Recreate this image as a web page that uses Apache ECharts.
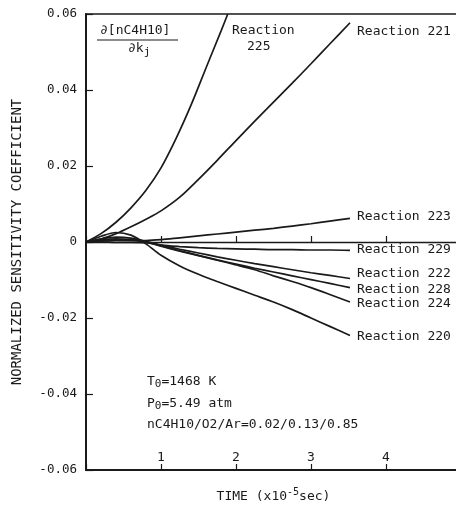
<!DOCTYPE html>
<html>
<head>
<meta charset="utf-8">
<script src="https://cdn.jsdelivr.net/npm/echarts@6/dist/echarts.min.js"></script>
<style>
  html, body { margin: 0; padding: 0; background: #fff; }
  #chart { width: 456px; height: 505px; }
</style>
</head>
<body>
<div id="chart"></div>
<script>
// Time points (x10^-5 sec) shared by the long-running coefficients
const timeGrid = [0, 0.2, 0.4, 0.6, 0.8, 1.0, 1.25, 1.5, 1.75, 2.0, 2.25, 2.5, 2.75, 3.0, 3.25, 3.52];

// Normalized sensitivity coefficients d[nC4H10]/dk_j
const r221 = [0, 0.0008, 0.0022, 0.0040, 0.0060, 0.0082, 0.0118, 0.0165, 0.0215, 0.0267, 0.0318, 0.0368, 0.0418, 0.0469, 0.0521, 0.0577];
const r223 = [0, 0.0003, 0.0005, 0.0005, 0.0004, 0.0006, 0.0011, 0.0016, 0.0021, 0.0026, 0.0031, 0.0036, 0.0042, 0.0048, 0.0055, 0.0062];
const r229 = [0, 0.0000, -0.0001, -0.0001, -0.0002, -0.0008, -0.0012, -0.0015, -0.0017, -0.0018, -0.0019, -0.0020, -0.0020, -0.0021, -0.0021, -0.0022];
const r222 = [0, 0.0005, 0.0008, 0.0006, 0.0001, -0.0008, -0.0019, -0.0029, -0.0039, -0.0048, -0.0057, -0.0065, -0.0073, -0.0081, -0.0088, -0.0096];
const r228 = [0, 0.0003, 0.0005, 0.0004, 0.0000, -0.0010, -0.0023, -0.0035, -0.0047, -0.0058, -0.0069, -0.0079, -0.0089, -0.0099, -0.0109, -0.0120];
const r224 = [0, 0.0008, 0.0013, 0.0010, 0.0001, -0.0011, -0.0024, -0.0036, -0.0048, -0.0060, -0.0073, -0.0089, -0.0104, -0.0120, -0.0138, -0.0158];
const r220 = [0, 0.0015, 0.0025, 0.0018, -0.0005, -0.0035, -0.0063, -0.0085, -0.0104, -0.0122, -0.0140, -0.0158, -0.0178, -0.0200, -0.0222, -0.0246];

// Reaction 225 rises off the top of the plot, so it has its own time points
const time225 = [0, 0.2, 0.4, 0.6, 0.8, 1.0, 1.2, 1.4, 1.6, 1.8, 1.89];
const r225 = [0, 0.0022, 0.0052, 0.0090, 0.0136, 0.0195, 0.0272, 0.0360, 0.0458, 0.0555, 0.0600];

const xTicks = [1, 2, 3, 4, 5];
const yTicks = [-0.06, -0.04, -0.02, 0, 0.02, 0.04, 0.06];

const MONO = '"DejaVu Sans Mono", "Liberation Mono", monospace';
const INK = '#1a1a1a';

const pairs = (xs, ys) => xs.map((x, i) => [x, ys[i]]);

function curve(name, xs, ys, labelOffsetY) {
  const s = {
    name: name,
    type: 'line',
    xAxisIndex: 0,
    yAxisIndex: 0,
    data: pairs(xs, ys),
    smooth: 0.3,
    showSymbol: false,
    symbol: 'none',
    lineStyle: { color: INK, width: 1.7 },
    z: 3
  };
  if (labelOffsetY !== null) {
    s.endLabel = {
      show: true,
      formatter: name,
      distance: 7,
      offset: [0, labelOffsetY],
      color: INK,
      fontFamily: MONO,
      fontSize: 13
    };
  }
  return s;
}

const chart = echarts.init(document.getElementById('chart'), null, { renderer: 'canvas' });

chart.setOption({
  animation: false,
  backgroundColor: '#fff',
  grid: {
    left: 86, top: 14, width: 375, height: 456,
    outerBoundsMode: 'none',
    containLabel: false,
    show: true, borderColor: INK, borderWidth: 1.5, backgroundColor: 'transparent'
  },
  xAxis: [
    {
      type: 'value',
      position: 'bottom',
      min: 0, max: xTicks[xTicks.length - 1], interval: 1,
      name: 'TIME (x10{sup|-5}sec)',
      nameLocation: 'middle',
      nameGap: 17,
      nameTextStyle: {
        color: INK, fontFamily: MONO, fontSize: 13,
        rich: { sup: { fontSize: 10, fontFamily: MONO, color: INK, padding: [0, 0, 9, 0], verticalAlign: 'bottom' } }
      },
      axisLine: { onZero: false, lineStyle: { color: INK, width: 2 } },
      axisTick: { inside: true, length: 6, lineStyle: { color: INK, width: 1.2 } },
      axisLabel: {
        inside: true, margin: 6, color: INK, fontFamily: MONO, fontSize: 13,
        hideOverlap: false, showMaxLabel: true,
        formatter: v => (v === 0 ? '' : String(v))
      },
      splitLine: { show: false }
    },
    {
      // zero reference line with its own upward ticks
      type: 'value',
      position: 'bottom',
      min: 0, max: xTicks[xTicks.length - 1], interval: 1,
      axisLine: { onZero: true, lineStyle: { color: INK, width: 1.3 } },
      axisTick: { inside: true, length: 6, lineStyle: { color: INK, width: 1.2 } },
      axisLabel: { show: false },
      splitLine: { show: false }
    }
  ],
  yAxis: {
    type: 'value',
    min: yTicks[0], max: yTicks[yTicks.length - 1], interval: 0.02,
    name: 'NORMALIZED SENSITIVITY COEFFICIENT',
    nameLocation: 'middle',
    nameRotate: 90,
    nameGap: 62,
    nameTextStyle: { color: INK, fontFamily: MONO, fontSize: 14 },
    axisLine: { show: true, lineStyle: { color: INK, width: 2 } },
    axisTick: { show: true, inside: true, length: 7, lineStyle: { color: INK, width: 1.2 } },
    axisLabel: {
      margin: 9, color: INK, fontFamily: MONO, fontSize: 12.5,
      formatter: v => (Math.abs(v) < 1e-9 ? '0' : v.toFixed(2))
    },
    splitLine: { show: false }
  },
  series: [
    curve('Reaction 225', time225, r225, null),
    curve('Reaction 221', timeGrid, r221, 9),
    curve('Reaction 223', timeGrid, r223, -2),
    curve('Reaction 229', timeGrid, r229, -1),
    curve('Reaction 222', timeGrid, r222, -5),
    curve('Reaction 228', timeGrid, r228, 2),
    curve('Reaction 224', timeGrid, r224, 2),
    curve('Reaction 220', timeGrid, r220, 1)
  ],
  graphic: [
    // d[nC4H10]/dk_j fraction
    { type: 'text', left: 100, top: 24, style: { text: '\u2202[nC4H10]', fill: INK, font: '13px ' + MONO } },
    { type: 'line', shape: { x1: 97, y1: 40, x2: 178, y2: 40 }, style: { stroke: INK, lineWidth: 1.2 } },
    {
      type: 'text', left: 128, top: 42,
      style: {
        text: '\u2202k{sub|j}', fill: INK, font: '13px ' + MONO,
        rich: { sub: { fontSize: 11, fontFamily: MONO, fill: INK, padding: [7, 0, 0, 0], verticalAlign: 'top' } }
      }
    },
    // label for the curve leaving the top edge
    { type: 'text', left: 232, top: 24, style: { text: 'Reaction', fill: INK, font: '13px ' + MONO } },
    { type: 'text', left: 247, top: 40, style: { text: '225', fill: INK, font: '13px ' + MONO } },
    // initial conditions
    {
      type: 'text', left: 147, top: 375,
      style: {
        text: 'T{sub|0}=1468 K', fill: INK, font: '13px ' + MONO,
        rich: { sub: { fontSize: 11, fontFamily: MONO, fill: INK, padding: [6, 0, 0, 0], verticalAlign: 'top' } }
      }
    },
    {
      type: 'text', left: 147, top: 397,
      style: {
        text: 'P{sub|0}=5.49 atm', fill: INK, font: '13px ' + MONO,
        rich: { sub: { fontSize: 11, fontFamily: MONO, fill: INK, padding: [6, 0, 0, 0], verticalAlign: 'top' } }
      }
    },
    { type: 'text', left: 147, top: 418, style: { text: 'nC4H10/O2/Ar=0.02/0.13/0.85', fill: INK, font: '13px ' + MONO } }
  ]
});
</script>
</body>
</html>
